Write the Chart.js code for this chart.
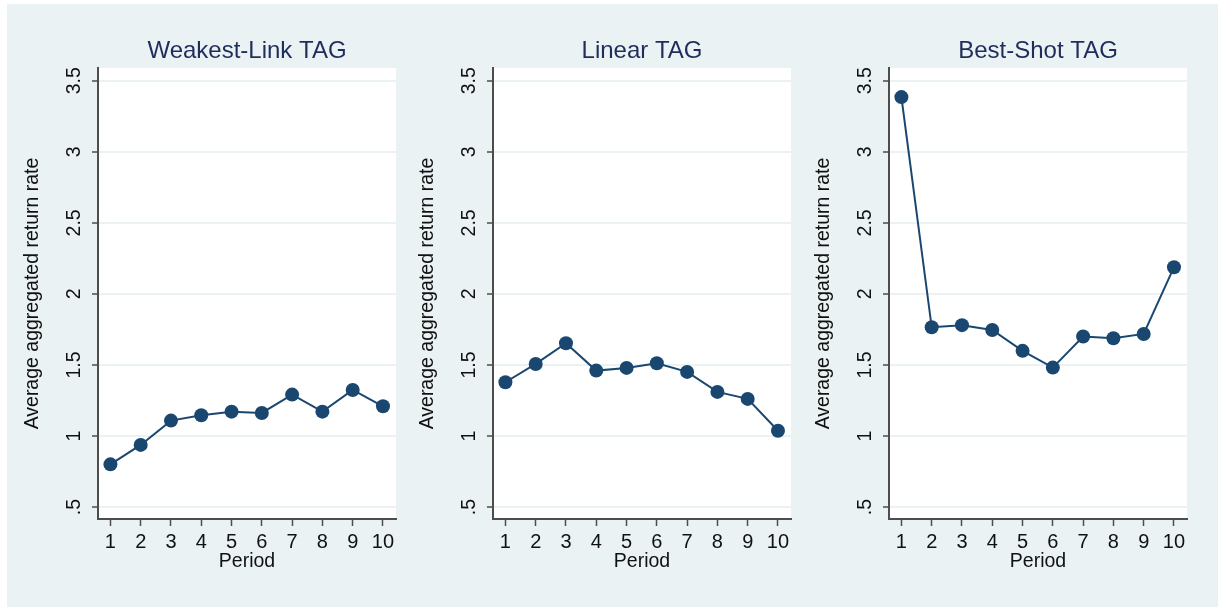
<!DOCTYPE html>
<html><head><meta charset="utf-8">
<script src="https://cdn.jsdelivr.net/npm/chart.js@4"></script>
<style>
html,body{margin:0;padding:0;background:#fff;width:1218px;height:607px;overflow:hidden;}
#bg{position:absolute;left:7px;top:4px;width:1211px;height:603px;background:#eaf2f3;}
canvas{position:absolute;top:4px;}
</style></head><body>
<div id="bg"></div>
<canvas id="c0" width="395" height="600" style="left:8px"></canvas>
<canvas id="c1" width="395" height="600" style="left:403px"></canvas>
<canvas id="c2" width="395" height="600" style="left:799px"></canvas>
<script>
const periods = [1, 2, 3, 4, 5, 6, 7, 8, 9, 10];
const weakestLink = [0.800, 0.937, 1.108, 1.146, 1.171, 1.162, 1.291, 1.171, 1.324, 1.209];
const linearTag = [1.378, 1.507, 1.653, 1.460, 1.479, 1.512, 1.451, 1.310, 1.261, 1.037];
const bestShot = [3.385, 1.765, 1.780, 1.746, 1.599, 1.481, 1.700, 1.688, 1.718, 2.188];
const panelTitles = ['Weakest-Link TAG', 'Linear TAG', 'Best-Shot TAG'];
const yTickValues = [0.5, 1, 1.5, 2, 2.5, 3, 3.5];
const yTickLabels = ['.5', '1', '1.5', '2', '2.5', '3', '3.5'];
const xTitle = 'Period';
const yTitle = 'Average aggregated return rate';

const FONT = "'Liberation Sans', Arial, Helvetica, sans-serif";
const NAVY = '#1a476f';
const AXIS = '#4d4d4d';
const GRID = '#eaf2f3';

const plotBg = {
  id: 'plotBg',
  beforeDraw(chart) {
    const {ctx, chartArea: a} = chart;
    ctx.save();
    ctx.fillStyle = '#ffffff';
    ctx.fillRect(a.left, a.top, a.right - a.left, a.bottom - a.top);
    ctx.restore();
  }
};

function makeChart(id, title, values) {
  new Chart(document.getElementById(id), {
    type: 'line',
    data: {
      datasets: [{
        data: periods.map((p, i) => ({x: p, y: values[i]})),
        borderColor: NAVY,
        backgroundColor: NAVY,
        borderWidth: 2,
        pointRadius: 7,
        pointBorderWidth: 0,
        pointBackgroundColor: NAVY,
        tension: 0,
        clip: false
      }]
    },
    options: {
      responsive: false,
      animation: false,
      events: [],
      layout: {padding: {top: 0, left: 0, right: 5, bottom: 0}},
      plugins: {
        legend: {display: false},
        tooltip: {enabled: false},
        title: {
          display: true,
          text: title,
          fullSize: false,
          color: '#1f2d5c',
          font: {family: FONT, size: 24, weight: 'normal', lineHeight: 1.2},
          padding: {top: 33.2, bottom: 2.0}
        }
      },
      scales: {
        x: {
          type: 'linear',
          min: 0.59, max: 10.43,
          afterBuildTicks(s) { s.ticks = periods.map(v => ({value: v})); },
          afterFit(s) { s.height = 85; s.paddingLeft = 0; s.paddingRight = 0; },
          ticks: {
            color: '#111',
            font: {family: FONT, size: 20, lineHeight: 1.2},
            padding: 4,
            maxRotation: 0, minRotation: 0,
            autoSkip: false,
            callback: v => String(v)
          },
          grid: {drawOnChartArea: false, drawTicks: true, tickLength: 7, tickColor: AXIS, tickWidth: 1.5},
          border: {display: true, color: AXIS, width: 2},
          title: {
            display: true, text: xTitle, color: '#111',
            font: {family: FONT, size: 19.5, lineHeight: 1.2},
            padding: {top: 0, bottom: 30.5}
          }
        },
        y: {
          type: 'linear',
          min: 0.4155, max: 3.59,
          afterBuildTicks(s) { s.ticks = yTickValues.map(v => ({value: v})); },
          afterFit(s) { s.width = 90; s.paddingTop = 0; s.paddingBottom = 0; },
          ticks: {
            color: '#111',
            font: {family: FONT, size: 19.5, lineHeight: 1.2},
            padding: 4,
            minRotation: 90, maxRotation: 90,
            crossAlign: 'center',
            autoSkip: false,
            callback: (v) => { const k = yTickValues.indexOf(v); return k >= 0 ? yTickLabels[k] : ''; }
          },
          grid: {drawOnChartArea: true, color: GRID, lineWidth: 2, drawTicks: true, tickLength: 6, tickColor: AXIS, tickWidth: 1.5},
          border: {display: true, color: AXIS, width: 2},
          title: {
            display: true, text: yTitle, color: '#111',
            font: {family: FONT, size: 19.5, lineHeight: 1.2},
            padding: {top: 13.3, bottom: 0}
          }
        }
      }
    },
    plugins: [plotBg]
  });
}

makeChart('c0', panelTitles[0], weakestLink);
makeChart('c1', panelTitles[1], linearTag);
makeChart('c2', panelTitles[2], bestShot);
</script>
</body></html>
